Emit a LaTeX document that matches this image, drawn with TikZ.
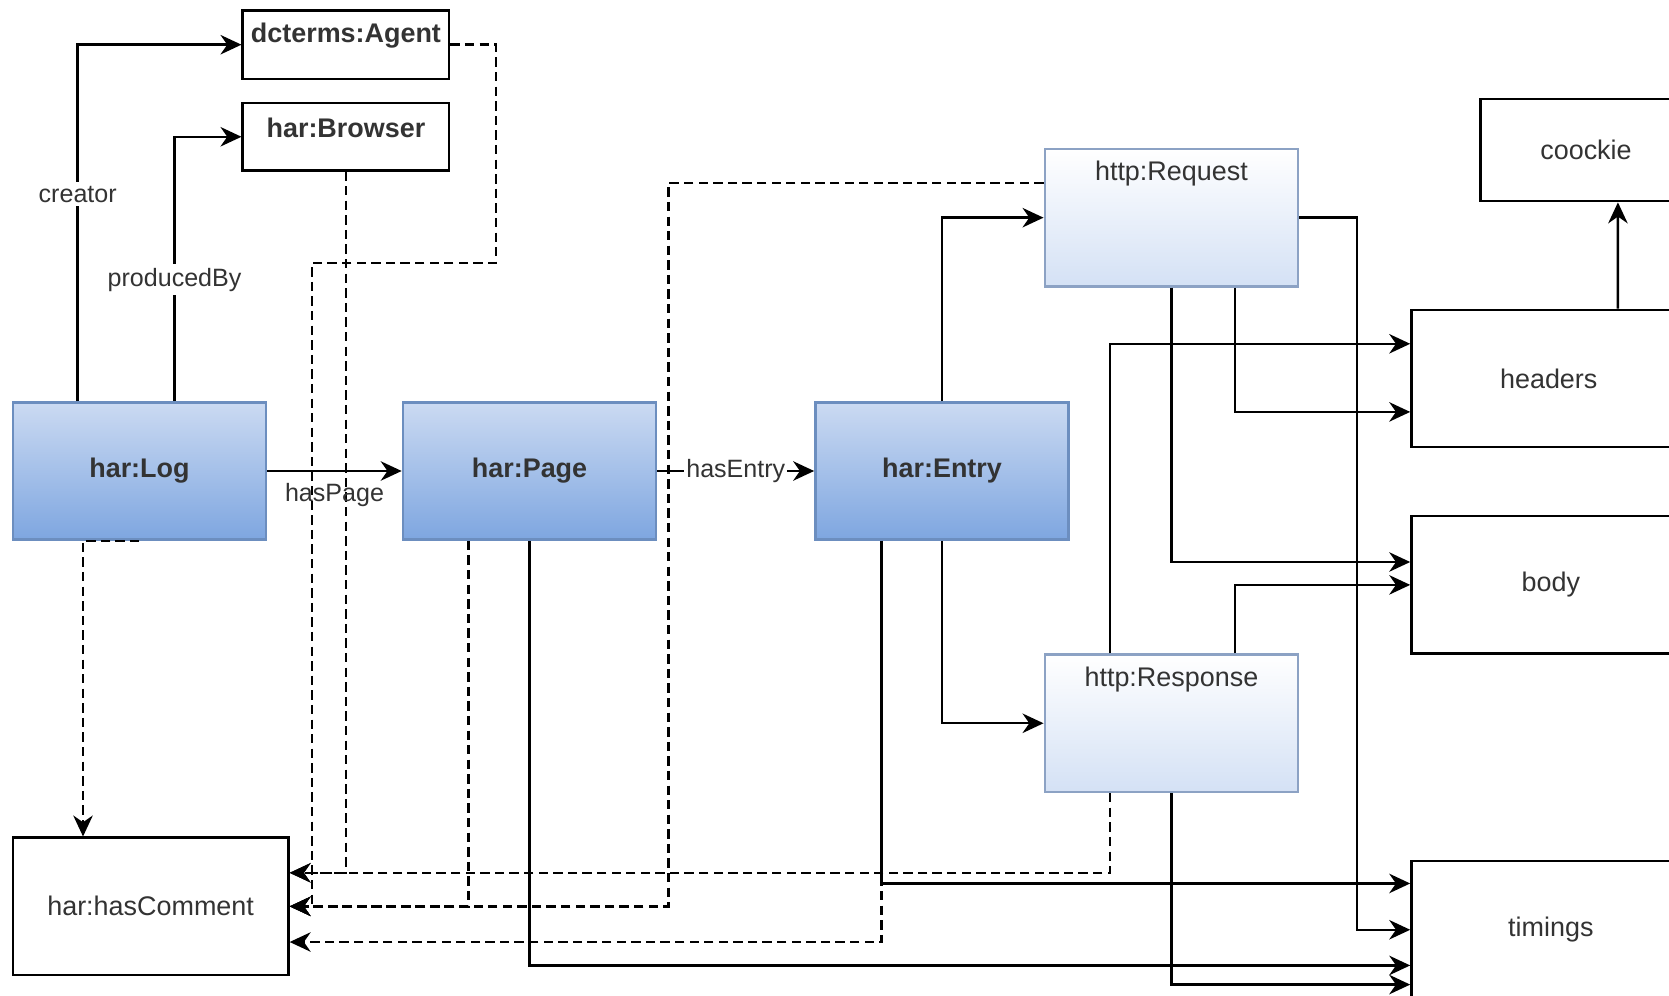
\documentclass[tikz,border=0pt]{standalone}
\usepackage{fontspec}
\setmainfont{Liberation Sans}
\usetikzlibrary{arrows.meta}
\definecolor{clsTop}{RGB}{203,218,242}
\definecolor{clsBot}{RGB}{126,166,224}
\definecolor{clsLine}{RGB}{108,142,191}
\definecolor{msgBot}{RGB}{212,225,245}
\definecolor{msgLine}{RGB}{140,162,196}
\definecolor{ink}{RGB}{51,51,51}
\newcommand{\nfont}{\fontsize{7.2}{8.6}\selectfont}
\newcommand{\lfont}{\fontsize{6.7}{8}\selectfont}
\tikzset{
  box/.style={rectangle, draw, line width=0.65pt, inner sep=0pt, text=ink, font=\nfont},
  big/.style={minimum width=2.38cm, minimum height=1.29cm},
  cls/.style={box, big, draw=clsLine, top color=clsTop, bottom color=clsBot, font=\nfont\bfseries},
  msg/.style={box, big, draw=msgLine, top color=white, bottom color=msgBot},
  ttl/.style={anchor=center, yshift=-2.45mm, text=ink, font=\nfont, inner sep=0pt},
  ttlb/.style={ttl, font=\nfont\bfseries},
  fl/.style={-{Stealth[length=5.6pt, width=5.2pt, inset=1.8pt]}, line width=0.65pt},
  ref/.style={fl, dash pattern=on 2.5pt off 1.4pt},
  lbl/.style={font=\lfont, text=ink, inner sep=1pt},
}
\begin{document}
\begin{tikzpicture}
\clip (0,0) rectangle (15.68,9.35);
% har classes
\node[cls] (log) at (1.31,4.925) {har:Log};
\node[cls] (page) at (4.975,4.925) {har:Page};
\node[cls] (entry) at (8.85,4.925) {har:Entry};
\node[box, minimum width=1.94cm, minimum height=0.64cm, label={[ttlb]north:{dcterms:Agent}}] (agent) at (3.25,8.93) {};
\node[box, minimum width=1.94cm, minimum height=0.63cm, label={[ttlb]north:{har:Browser}}] (browser) at (3.25,8.065) {};
\node[box, minimum width=2.59cm, minimum height=1.29cm] (comment) at (1.415,0.835) {har:hasComment};
% http messages
\node[msg, label={[ttl]north:{http:Request}}] (request) at (11.005,7.305) {};
\node[msg, label={[ttl]north:{http:Response}}] (response) at (11.005,2.555) {};
% message parts
\node[box, minimum width=1.98cm, minimum height=0.96cm] (coockie) at (14.9,7.94) {coockie};
\node[box, minimum width=2.58cm, minimum height=1.29cm] (headers) at (14.55,5.795) {headers};
\node[box, minimum width=2.62cm, minimum height=1.29cm] (body) at (14.57,3.855) {body};
\node[box, minimum width=2.62cm, minimum height=1.29cm] (timings) at (14.57,0.615) {timings};

% comments
\draw[ref] (log.south) -| ([xshift=-6.35mm]comment.north);
\draw[ref] (browser.south) |- ([yshift=3.15mm]comment.east);
\draw[ref] ([xshift=-5.75mm]response.south) |- ([yshift=3.15mm]comment.east);
\draw[ref] (agent.east) -| (4.66,6.88) -| (2.93,0.835) -- (comment.east);
\draw[ref] ([xshift=-5.75mm]page.south) |- (comment.east);
\draw[ref] ([yshift=3.25mm]request.west) -| (6.28,0.835) -- (comment.east);
\draw[ref] ([xshift=-5.7mm]entry.south) |- ([yshift=-3.35mm]comment.east);

% properties
\draw[fl] ([xshift=-5.8mm]log.north) |- node[lbl, fill=white, pos=0.29]{creator} (agent.west);
\draw[fl] ([xshift=3.3mm]log.north) |- node[lbl, fill=white, pos=0.23]{producedBy} (browser.west);
\draw[fl] (log) -- node[lbl, below=2pt]{hasPage} (page);
\draw[fl] (page) -- node[lbl, fill=white, inner sep=0.5pt]{hasEntry} (entry);
\draw[fl] (entry.north) |- (request.west);
\draw[fl] (entry.south) |- (response.west);
\draw[fl] ([xshift=-5.7mm]entry.south) |- ([yshift=4.35mm]timings.west);
\draw[fl] (page.south) |- ([yshift=-3.35mm]timings.west);
\draw[fl] ([xshift=5.95mm]request.south) |- ([yshift=-3.15mm]headers.west);
\draw[fl] (request.south) |- ([yshift=2.15mm]body.west);
\draw[fl] (request.east) -- ++(0.54,0) |- (timings.west);
\draw[fl] ([xshift=-5.75mm]response.north) |- ([yshift=3.25mm]headers.west);
\draw[fl] ([xshift=5.95mm]response.north) |- (body.west);
\draw[fl] (response.south) |- ([yshift=-5.15mm]timings.west);
\draw[fl] ([xshift=6.5mm]headers.north) -- ([xshift=3mm]coockie.south);
\end{tikzpicture}
\end{document}
